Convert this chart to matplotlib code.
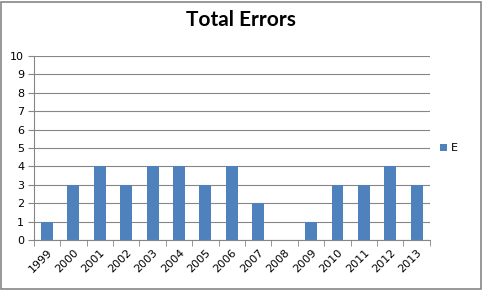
import numpy as np
import matplotlib.pyplot as plt
from matplotlib.patches import Rectangle

# data
years = ['1999', '2000', '2001', '2002', '2003', '2004', '2005', '2006',
         '2007', '2008', '2009', '2010', '2011', '2012', '2013']
errors = [1, 3, 4, 3, 4, 4, 3, 4, 2, 0, 1, 3, 3, 4, 3]

fig = plt.figure(figsize=(4.83, 2.90), dpi=100)
ax = fig.add_axes([0.070, 0.172, 0.820, 0.635])

x = np.arange(len(years))
ax.bar(x, errors, width=0.45, color='#4F81BD', label='E', zorder=3)

ax.set_xlim(-0.5, len(years) - 0.5)
ax.set_ylim(0, 10)
ax.set_yticks(range(0, 11))
ax.yaxis.grid(True, color='#868686', linewidth=0.8, zorder=0)

ax.set_xticks(x)
ax.set_xticklabels(years, rotation=45, ha='right', rotation_mode='anchor', fontsize=8)
ax.tick_params(axis='x', length=0, pad=5)
ax.set_xticks(np.arange(-0.5, len(years)), minor=True)
ax.tick_params(axis='x', which='minor', length=4, color='#868686', direction='out')
ax.tick_params(axis='y', labelsize=8, length=4, color='#868686', direction='out', pad=3)

for s in ['top', 'right']:
    ax.spines[s].set_visible(False)
ax.spines['left'].set_color('#868686')
ax.spines['bottom'].set_color('#868686')

fig.suptitle('Total Errors', x=0.498, y=0.965, fontsize=15, fontweight='bold',
             family='Lato')

leg = ax.legend(loc='center left', bbox_to_anchor=(1.0, 0.5), frameon=False,
                fontsize=8, handlelength=0.6, handleheight=0.6, handletextpad=0.4)

fig.patches.append(Rectangle((0.002, 0.004), 0.994, 0.99, transform=fig.transFigure,
                             fill=False, edgecolor='#868686', linewidth=1.2))

fig.savefig('out.png', dpi=100)
